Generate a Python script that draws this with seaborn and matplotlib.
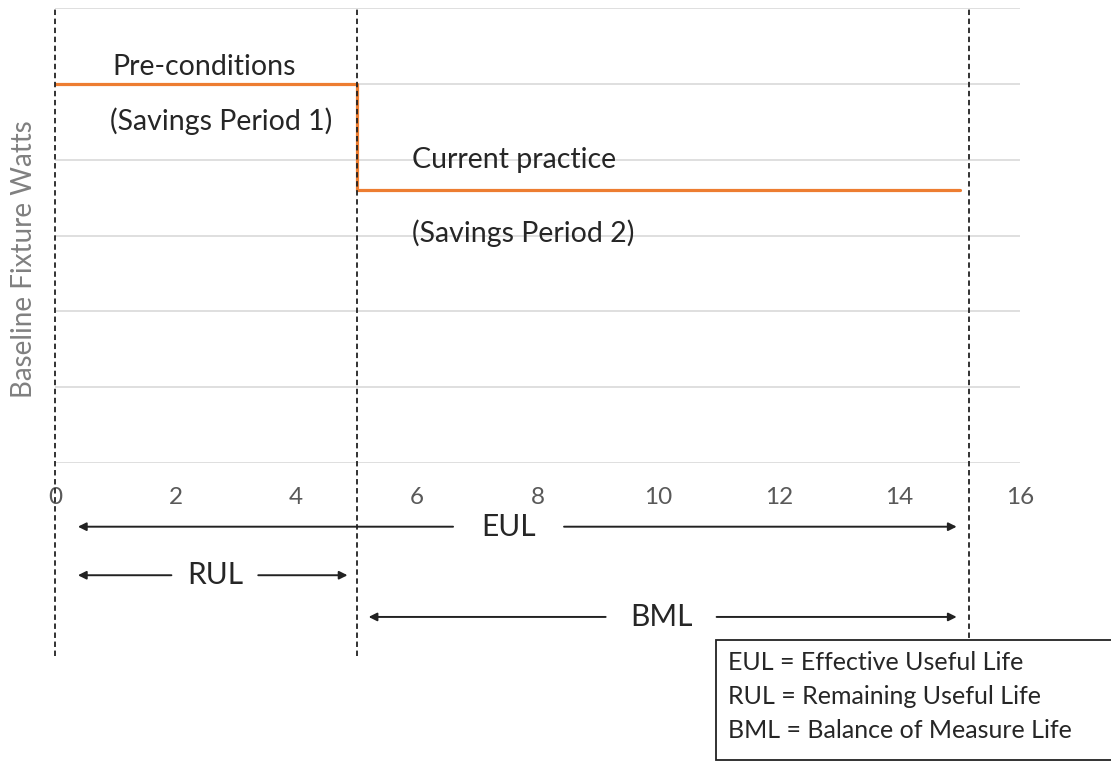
import matplotlib
matplotlib.use("Agg")
import matplotlib.pyplot as plt
import matplotlib.patches as patches
import pandas as pd
import seaborn as sns

# Data
years = [0, 5, 15]
watts = [5.0, 3.6, 3.6]
boundaries = [0, 5, 15.15]
x_ticks = [0, 2, 4, 6, 8, 10, 12, 14, 16]
# label, start, end, text x, half gap, level
spans = [("EUL", 0.38, 14.95, 7.52, 0.92, -0.84),
         ("RUL", 0.38, 4.85, 2.65, 0.72, -1.48),
         ("BML", 5.2, 14.95, 10.05, 0.92, -2.03)]
legend_lines = ["EUL = Effective Useful Life",
                "RUL = Remaining Useful Life",
                "BML = Balance of Measure Life"]

df = pd.DataFrame({"Year": years, "Watts": watts})

sns.set_style("white")
plt.rcParams["font.family"] = ["Lato", "DejaVu Sans"]

fig = plt.figure(figsize=(11.11, 7.61), dpi=100, facecolor="white")
ax = fig.add_axes([55 / 1111, 1 - 463 / 761, 965 / 1111, 455 / 761])

sns.lineplot(data=df, x="Year", y="Watts", drawstyle="steps-post",
             color="#ED7D31", linewidth=2.3, ax=ax, zorder=3)

ax.set_xlim(0, 16)
ax.set_ylim(0, 6)
ax.set_xticks(x_ticks)
ax.set_yticks(range(0, 7))
ax.set_yticklabels([])
ax.grid(axis="y", color="#D9D9D9", linewidth=1.2)
ax.grid(axis="x", visible=False)
ax.tick_params(axis="x", length=0, pad=17, labelsize=17.5, labelcolor="#595959")
ax.tick_params(axis="y", length=0)
for s in ax.spines.values():
    s.set_visible(False)
ax.set_xlabel("")
ax.set_ylabel("Baseline Fixture Watts", fontsize=20, color="#808080")
ax.yaxis.set_label_coords(-0.019, 0.448)

# dashed boundaries extending below the axis
for b in boundaries:
    ax.plot([b, b], [-2.55, 6], color="#222222", linestyle=(0, (3, 2)),
            linewidth=1.3, clip_on=False, zorder=4)

# annotation texts
txt = dict(fontsize=20.5, color="#262626", va="center", ha="left")
ax.text(0.95, 5.22, "Pre-conditions", **txt)
ax.text(0.91, 4.51, "(Savings Period 1)", **txt)
ax.text(5.92, 4.0, "Current practice", **txt)
ax.text(5.92, 3.03, "(Savings Period 2)", **txt)

# span arrows, split around the label
arrow = dict(color="#222222", lw=1.4, mutation_scale=12, shrinkA=0, shrinkB=0)
for label, x0, x1, xt, gap, yy in spans:
    ax.annotate("", xy=(x0, yy), xytext=(xt - gap, yy),
                arrowprops=dict(arrowstyle="-|>", **arrow),
                annotation_clip=False, zorder=5)
    ax.annotate("", xy=(x1, yy), xytext=(xt + gap, yy),
                arrowprops=dict(arrowstyle="-|>", **arrow),
                annotation_clip=False, zorder=5)
    ax.text(xt, yy, label, fontsize=21.5, color="#262626",
            ha="center", va="center", zorder=6, clip_on=False)

# definitions box
fig.patches.append(patches.Rectangle((716 / 1111, 1 - 760 / 761), 400 / 1111, 120 / 761,
                                     transform=fig.transFigure, facecolor="white",
                                     edgecolor="#222222", linewidth=1.3))
for i, line in enumerate(legend_lines):
    fig.text(728 / 1111, 1 - (662 + 34.5 * i) / 761, line, fontsize=18,
             color="#262626", va="center", ha="left")

plt.savefig("out.png", dpi=100, facecolor="white")
